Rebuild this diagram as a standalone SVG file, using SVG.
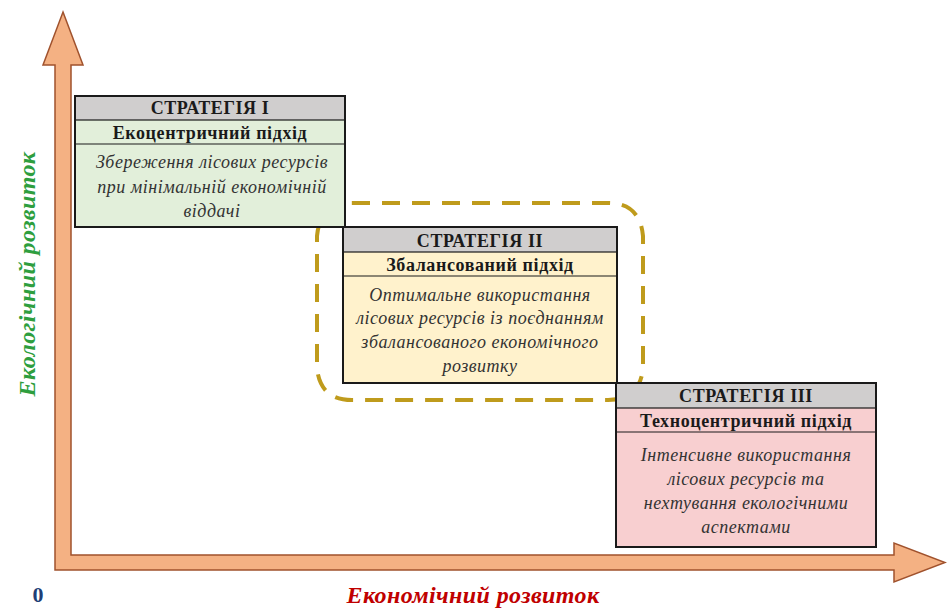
<svg xmlns="http://www.w3.org/2000/svg" width="947" height="610" viewBox="0 0 947 610">
<style>
.hdr{fill:#D0CECE;stroke:#1a1a1a;stroke-width:1.2}
.box{stroke:#1a1a1a;stroke-width:2}
.sep{stroke:#1a1a1a;stroke-width:1.2}
.t{font-family:"Liberation Serif","Times New Roman",serif;text-anchor:middle;fill:#1a1a1a}
.h{font-weight:bold;font-size:18px;letter-spacing:0.6px}
.s{font-weight:bold;font-size:18px;letter-spacing:0.6px}
.b{font-style:italic;font-size:18px;fill:#333;letter-spacing:0.5px}
.ax{font-family:"Liberation Serif","Times New Roman",serif;font-weight:bold;font-style:italic;font-size:24px;text-anchor:middle;letter-spacing:0.4px}
</style>
<rect width="947" height="610" fill="#ffffff"/>
<g id="connectors">
<polygon id="axes" points="63,12 83,65 71,65 71,555 894,555 894,543 945,562.5 894,582 894,570 55,570 55,65 43,65" fill="#F4B183" stroke="#A0522D" stroke-width="1.5" stroke-linejoin="miter"/>
<path id="highlight" d="M352,203 H608 Q640,203 643,236 V368 Q640,400 608,400 H352 Q320,400 317,368 V236 Q320,203 352,203 Z" fill="none" stroke="#BF9B1C" stroke-width="4" stroke-dasharray="18 12"/>
</g>
<g id="strategy1">
<rect class="box" x="75" y="96" width="270" height="131" fill="#E2EFDA"/>
<rect class="hdr" x="75" y="96" width="270" height="24"/>
<line class="sep" x1="75" y1="144" x2="345" y2="144"/>
<rect x="75" y="96" width="270" height="131" fill="none" stroke="#1a1a1a" stroke-width="2"/>
<text class="t h" x="210" y="114">СТРАТЕГІЯ І</text>
<text class="t s" x="210" y="139">Екоцентричний підхід</text>
<text class="t b" x="212" y="168">Збереження лісових ресурсів</text>
<text class="t b" x="212" y="193">при мінімальній економічній</text>
<text class="t b" x="212" y="217">віддачі</text>
</g>
<g id="strategy2">
<rect class="box" x="343" y="227" width="274" height="156" fill="#FFF2CC"/>
<rect class="hdr" x="343" y="227" width="274" height="25"/>
<line class="sep" x1="343" y1="276" x2="617" y2="276"/>
<rect x="343" y="227" width="274" height="156" fill="none" stroke="#1a1a1a" stroke-width="2"/>
<text class="t h" x="480" y="247">СТРАТЕГІЯ ІІ</text>
<text class="t s" x="480" y="271">Збалансований підхід</text>
<text class="t b" x="480" y="301">Оптимальне використання</text>
<text class="t b" x="480" y="324">лісових ресурсів із поєднанням</text>
<text class="t b" x="480" y="348">збалансованого економічного</text>
<text class="t b" x="480" y="372">розвитку</text>
</g>
<g id="strategy3">
<rect class="box" x="616" y="383" width="260" height="164" fill="#F8CFD0"/>
<rect class="hdr" x="616" y="383" width="260" height="25"/>
<line class="sep" x1="616" y1="432" x2="876" y2="432"/>
<rect x="616" y="383" width="260" height="164" fill="none" stroke="#1a1a1a" stroke-width="2"/>
<text class="t h" x="746" y="402">СТРАТЕГІЯ ІІІ</text>
<text class="t s" x="746" y="427">Техноцентричний підхід</text>
<text class="t b" x="746" y="461">Інтенсивне використання</text>
<text class="t b" x="746" y="485">лісових ресурсів та</text>
<text class="t b" x="746" y="509">нехтування екологічними</text>
<text class="t b" x="746" y="533">аспектами</text>
</g>
<g id="labels">
<text class="ax" fill="#2E9E3E" transform="translate(35,274) rotate(-90)">Екологічний розвиток</text>
<text class="ax" fill="#C00000" x="473" y="603">Економічний розвиток</text>
<text x="38" y="602" font-family="Liberation Serif, Times New Roman, serif" font-weight="bold" font-size="22" fill="#1F3F77" text-anchor="middle">0</text>
</g>
</svg>
